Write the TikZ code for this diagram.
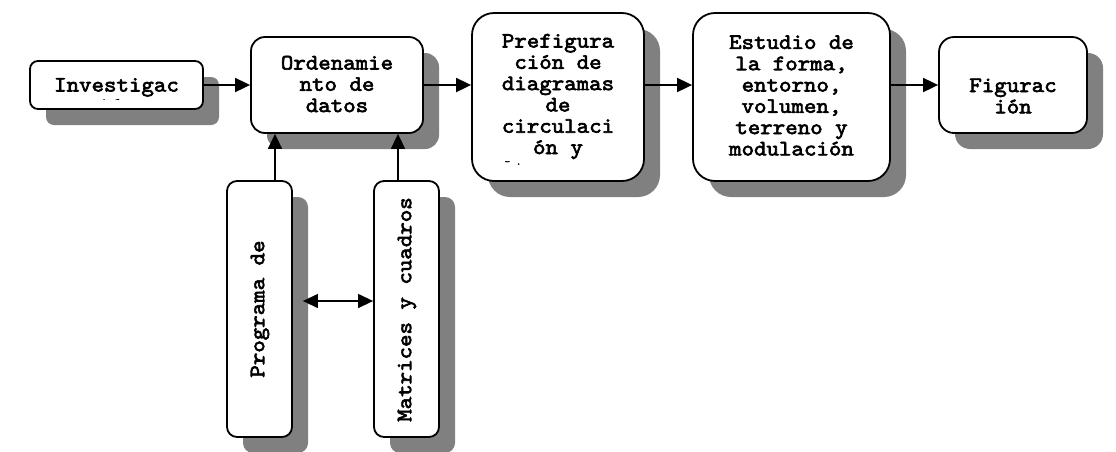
\documentclass[tikz,border=0pt]{standalone}
\usepackage{fontspec}
\newfontfamily\boxfont{lmmono10-regular.otf}[FakeBold=2.8,FakeStretch=1.08]
\usetikzlibrary{arrows.meta,shadows}
\definecolor{shadowgray}{RGB}{128,128,128}
\begin{document}
\begin{tikzpicture}[x=1pt,y=-1pt,
  box/.style={draw=black,line width=1.8pt,fill=white,inner sep=0pt,
    drop shadow={shadow xshift=16pt,shadow yshift=-16pt,fill=shadowgray,opacity=1}},
  txt/.style={font=\boxfont\fontsize{22}{21.3}\selectfont,align=center,inner sep=0pt},
  arr/.style={line width=1.8pt,-{Triangle[length=15pt,width=14pt]}},
  darr/.style={line width=1.3pt,{Triangle[length=15pt,width=14pt]}-{Triangle[length=15pt,width=14pt]}}]
\useasboundingbox (0,0) rectangle (1116,451);
% boxes
\node[box,rounded corners=8pt,minimum width=173pt,minimum height=48pt] (inv) at (116.5,85) {};
\node[box,rounded corners=14pt,minimum width=172pt,minimum height=96pt] (ord) at (337,85) {};
\node[box,rounded corners=22pt,minimum width=172pt,minimum height=168pt] (pre) at (558,97) {};
\node[box,rounded corners=22pt,minimum width=197pt,minimum height=168pt] (est) at (791.5,97) {};
\node[box,rounded corners=15pt,minimum width=148pt,minimum height=96pt] (fig) at (1013,85) {};
\node[box,rounded corners=10pt,minimum width=65pt,minimum height=256pt] (prog) at (259.5,309) {};
\node[box,rounded corners=10pt,minimum width=65pt,minimum height=256pt] (mat) at (406.5,309) {};
% texts
\begin{scope}
\clip (30,61) rectangle (203,99.5);
\node[txt] (tinv) at (116.5,95.5) {Investigac\\ión};
\end{scope}
\node[txt] (tord) at (337,84) {Ordenamie\\nto de\\datos};
\node[txt] (tpre) at (558,96.5) {Prefigura\\ción de\\diagramas\\de\\circulaci\\ón y};
\node[txt,font=\boxfont\fontsize{10}{10}\selectfont] (tdots) at (513,163) {- .};
\node[txt] (test) at (791.5,95.5) {Estudio de\\la forma,\\entorno,\\volumen,\\terreno y\\modulación};
\node[txt] (tfig) at (1013,96) {Figurac\\ión};
\node[txt,rotate=90] (tprog) at (260,309) {Programa de};
\node[txt,rotate=90] (tmat) at (407,309.5) {Matrices y cuadros};
% connectors
\coordinate (c1) at (275,0);
\coordinate (c2) at (398,0);
\draw[arr] (inv.east) -- (ord.west);
\draw[arr] (ord.east) -- (ord.east -| pre.west);
\draw[arr] (ord.east -| pre.east) -- (ord.east -| est.west);
\draw[arr] (fig.west -| est.east) -- (fig.west);
\draw[arr] (prog.north -| c1) -- (ord.south -| c1);
\draw[arr] (mat.north -| c2) -- (ord.south -| c2);
\draw[darr] ([xshift=10pt,yshift=8pt]prog.east) -- ([yshift=8pt]mat.west);
\end{tikzpicture}
\end{document}
